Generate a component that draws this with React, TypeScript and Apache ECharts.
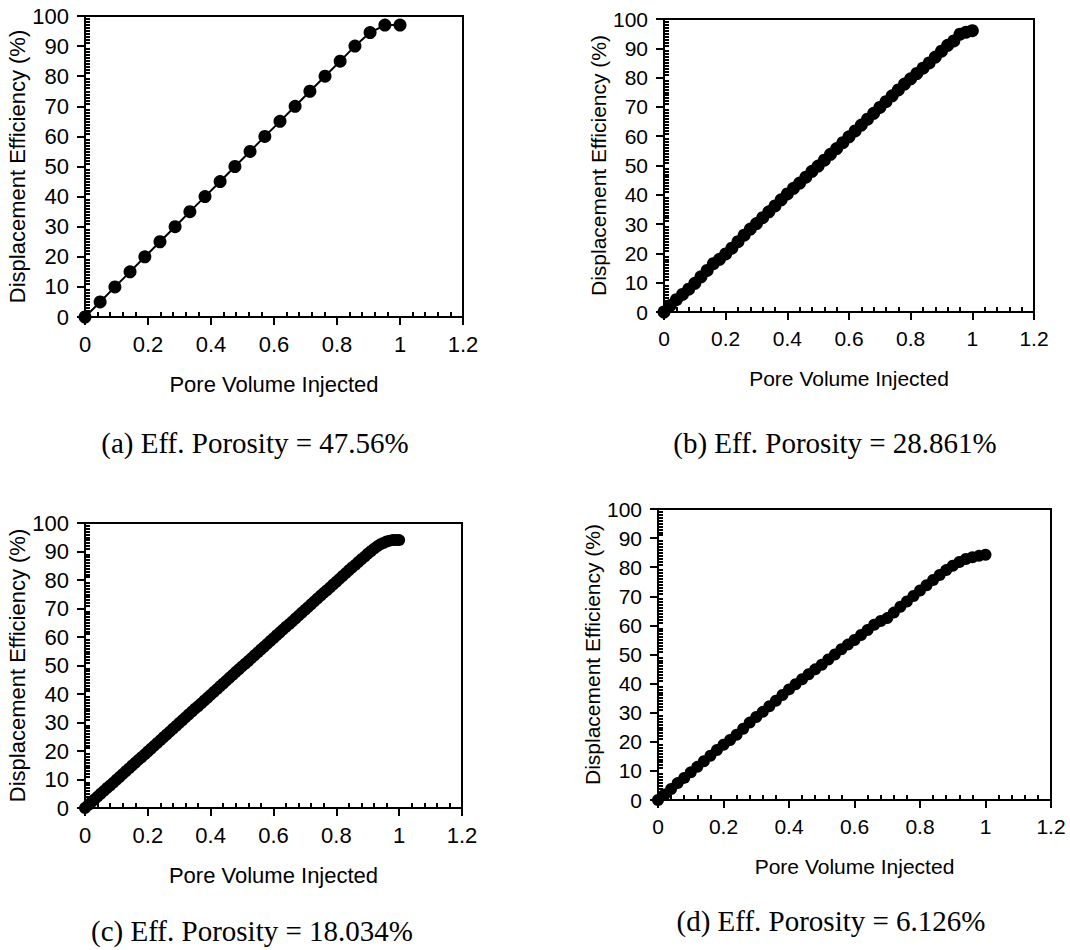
import React, { useEffect, useRef } from "react";
import * as echarts from "echarts";

// ---- Data ----
const xTickLabels = ["0", "0.2", "0.4", "0.6", "0.8", "1", "1.2"];
const yTickLabels = ["0", "10", "20", "30", "40", "50", "60", "70", "80", "90", "100"];

const captions = [
  "(a) Eff. Porosity = 47.56%",
  "(b) Eff. Porosity = 28.861%",
  "(c) Eff. Porosity = 18.034%",
  "(d) Eff. Porosity = 6.126%",
];

const xTitle = "Pore Volume Injected";
const yTitle = "Displacement Efficiency (%)";

const aX = [0, 0.048, 0.095, 0.143, 0.19, 0.238, 0.286, 0.333, 0.381, 0.429, 0.476, 0.524, 0.571, 0.619, 0.667, 0.714, 0.762, 0.81, 0.857, 0.905, 0.952, 1.0];
const aY = [0, 5, 10, 15, 20, 25, 30, 35, 40, 45, 50, 55, 60, 65, 70, 75, 80, 85, 90, 94.5, 97, 97];

const bX = [0, 0.02, 0.04, 0.06, 0.08, 0.1, 0.12, 0.14, 0.16, 0.18, 0.2, 0.22, 0.24, 0.26, 0.28, 0.3, 0.32, 0.34, 0.36, 0.38, 0.4, 0.42, 0.44, 0.46, 0.48, 0.5, 0.52, 0.54, 0.56, 0.58, 0.6, 0.62, 0.64, 0.66, 0.68, 0.7, 0.72, 0.74, 0.76, 0.78, 0.8, 0.82, 0.84, 0.86, 0.88, 0.9, 0.92, 0.94, 0.96, 0.98, 1.0];
const bY = [0, 2.2, 4.2, 6, 7.8, 9.8, 12, 14.2, 16.5, 18, 19.8, 21.8, 24, 26.2, 28.3, 30.2, 32.2, 34.2, 36.2, 38.3, 40.3, 42.2, 44, 46, 48, 49.8, 51.8, 53.8, 55.8, 57.8, 59.8, 61.8, 63.8, 65.8, 67.8, 69.8, 71.8, 73.8, 75.8, 77.8, 79.6, 81.4, 83.2, 85, 87, 89, 91, 92.5, 94.8, 95.5, 96];

const cX = [0, 0.01, 0.02, 0.03, 0.04, 0.05, 0.06, 0.07, 0.08, 0.09, 0.1, 0.11, 0.12, 0.13, 0.14, 0.15, 0.16, 0.17, 0.18, 0.19, 0.2, 0.21, 0.22, 0.23, 0.24, 0.25, 0.26, 0.27, 0.28, 0.29, 0.3, 0.31, 0.32, 0.33, 0.34, 0.35, 0.36, 0.37, 0.38, 0.39, 0.4, 0.41, 0.42, 0.43, 0.44, 0.45, 0.46, 0.47, 0.48, 0.49, 0.5, 0.51, 0.52, 0.53, 0.54, 0.55, 0.56, 0.57, 0.58, 0.59, 0.6, 0.61, 0.62, 0.63, 0.64, 0.65, 0.66, 0.67, 0.68, 0.69, 0.7, 0.71, 0.72, 0.73, 0.74, 0.75, 0.76, 0.77, 0.78, 0.79, 0.8, 0.81, 0.82, 0.83, 0.84, 0.85, 0.86, 0.87, 0.88, 0.89, 0.9, 0.91, 0.92, 0.93, 0.94, 0.95, 0.96, 0.97, 0.98, 0.99, 1.0];
const cY = [0, 1, 2, 3, 4, 5, 6, 7, 7.9, 8.9, 9.9, 10.9, 11.9, 12.9, 13.9, 14.9, 15.9, 16.9, 17.8, 18.8, 19.8, 20.8, 21.8, 22.8, 23.8, 24.8, 25.8, 26.8, 27.8, 28.8, 29.8, 30.8, 31.8, 32.8, 33.8, 34.8, 35.7, 36.7, 37.7, 38.7, 39.7, 40.7, 41.7, 42.7, 43.7, 44.7, 45.7, 46.7, 47.7, 48.7, 49.7, 50.6, 51.6, 52.6, 53.6, 54.6, 55.6, 56.6, 57.6, 58.6, 59.6, 60.6, 61.6, 62.6, 63.6, 64.5, 65.5, 66.5, 67.5, 68.5, 69.5, 70.5, 71.5, 72.5, 73.5, 74.5, 75.5, 76.4, 77.4, 78.4, 79.4, 80.4, 81.4, 82.4, 83.4, 84.4, 85.3, 86.3, 87.3, 88.2, 89.2, 90.1, 91, 91.8, 92.5, 93, 93.5, 93.8, 94, 94, 94];

const dX = [0, 0.02, 0.04, 0.06, 0.08, 0.1, 0.12, 0.14, 0.16, 0.18, 0.2, 0.22, 0.24, 0.26, 0.28, 0.3, 0.32, 0.34, 0.36, 0.38, 0.4, 0.42, 0.44, 0.46, 0.48, 0.5, 0.52, 0.54, 0.56, 0.58, 0.6, 0.62, 0.64, 0.66, 0.68, 0.7, 0.72, 0.74, 0.76, 0.78, 0.8, 0.82, 0.84, 0.86, 0.88, 0.9, 0.92, 0.94, 0.96, 0.98, 1.0];
const dY = [0, 1.9, 3.8, 5.8, 7.6, 9.5, 11.4, 13.3, 15.2, 17.2, 19, 20.6, 22.4, 24.5, 26.6, 28.5, 30.3, 32.2, 34.1, 36.1, 38, 39.8, 41.5, 43.2, 44.9, 46.5, 48.3, 50, 51.8, 53.4, 55, 56.7, 58.4, 60.2, 61.5, 62.5, 64.4, 66.4, 68.2, 70.1, 72, 73.8, 75.6, 77.3, 79, 80.5, 81.8, 82.8, 83.4, 83.9, 84.3];

const panelX = [aX, bX, cX, dX];
const panelY = [aY, bY, cY, dY];

// ---- Layout ----
const grids = [
  { left: 85, top: 16, width: 378, height: 301 },
  { left: 664, top: 19, width: 370, height: 293 },
  { left: 85, top: 523, width: 377, height: 285 },
  { left: 658, top: 509, width: 393, height: 291 },
];
const fontSizes = [22, 21, 22, 21];
const symbolSizes = [13, 13, 12, 12];
const captionPos = [
  [255, 443],
  [835, 443],
  [252, 931],
  [831, 921],
];

const SANS = "'Liberation Sans', Arial, sans-serif";
const SERIF = "'Liberation Serif', 'Times New Roman', serif";

function buildOption() {
  const xAxis: any[] = [];
  const yAxis: any[] = [];
  const series: any[] = [];
  const graphic: any[] = [];

  grids.forEach((g, i) => {
    const fs = fontSizes[i];
    xAxis.push({
      type: "value",
      gridIndex: i,
      position: "bottom",
      min: 0,
      max: 1.2,
      interval: 0.2,
      name: xTitle,
      nameLocation: "middle",
      nameGap: 56,
      nameTextStyle: { fontFamily: SANS, fontSize: fs, color: "#000" },
      axisLine: { show: true, onZero: false, lineStyle: { color: "#000", width: 2 } },
      axisTick: { show: true, inside: false, length: 8, lineStyle: { color: "#000", width: 2 } },
      axisLabel: {
        show: true,
        margin: 16,
        fontFamily: SANS,
        fontSize: fs,
        color: "#000",
        formatter: (v: number) => xTickLabels[Math.round(v / 0.2)] ?? String(v),
      },
      splitLine: { show: false },
    });
    xAxis.push({
      type: "value",
      gridIndex: i,
      position: "bottom",
      min: 0,
      max: 1.2,
      interval: 0.2,
      axisLine: { show: false },
      axisTick: { show: false, inside: true },
      axisLabel: { show: false },
      minorTick: { show: true, splitNumber: 5, length: 5, lineStyle: { color: "#000", width: 2 } },
      splitLine: { show: false },
    });
    yAxis.push({
      type: "value",
      gridIndex: i,
      position: "left",
      min: 0,
      max: 100,
      interval: 10,
      name: yTitle,
      nameLocation: "middle",
      nameGap: 52,
      nameTextStyle: { fontFamily: SANS, fontSize: fs, color: "#000" },
      axisLine: { show: true, onZero: false, lineStyle: { color: "#000", width: 2 } },
      axisTick: { show: true, inside: false, length: 8, lineStyle: { color: "#000", width: 2 } },
      axisLabel: {
        show: true,
        margin: 16,
        fontFamily: SANS,
        fontSize: fs,
        color: "#000",
        formatter: (v: number) => yTickLabels[Math.round(v / 10)] ?? String(v),
      },
      splitLine: { show: false },
    });
    yAxis.push({
      type: "value",
      gridIndex: i,
      position: "left",
      min: 0,
      max: 100,
      interval: 10,
      axisLine: { show: false },
      axisTick: { show: false, inside: true },
      axisLabel: { show: false },
      minorTick: { show: true, splitNumber: 10, length: 5, lineStyle: { color: "#000", width: 2 } },
      splitLine: { show: false },
    });

    const xs = panelX[i];
    const ys = panelY[i];
    series.push({
      type: "line",
      xAxisIndex: i * 2,
      yAxisIndex: i * 2,
      data: xs.map((x, k) => [x, ys[k]]),
      symbol: "circle",
      symbolSize: symbolSizes[i],
      showSymbol: true,
      clip: false,
      itemStyle: { color: "#000" },
      lineStyle: { color: "#000", width: 2 },
      emphasis: { disabled: true },
    });

    graphic.push({
      type: "text",
      x: captionPos[i][0],
      y: captionPos[i][1],
      style: {
        text: captions[i],
        fontFamily: SERIF,
        fontSize: 29,
        fill: "#000",
        textAlign: "center",
        textVerticalAlign: "middle",
      },
    });
  });

  return {
    animation: false,
    backgroundColor: "#fff",
    grid: grids.map((g) => ({
      ...g,
      show: true,
      borderColor: "#000",
      borderWidth: 2,
      backgroundColor: "transparent",
      containLabel: false,
    })),
    xAxis,
    yAxis,
    series,
    graphic,
  };
}

export default function App() {
  const ref = useRef<HTMLDivElement>(null);
  useEffect(() => {
    if (!ref.current) return;
    const chart = echarts.init(ref.current, null, { renderer: "svg" });
    chart.setOption(buildOption() as any);
    return () => chart.dispose();
  }, []);
  return (
    <div
      ref={ref}
      style={{ position: "absolute", left: 0, top: 0, width: 1070, height: 950, background: "#fff" }}
    />
  );
}
